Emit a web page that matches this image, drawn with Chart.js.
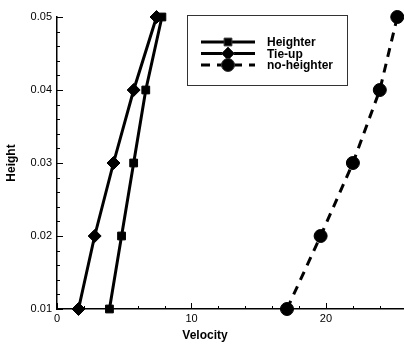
<!DOCTYPE html>
<html>
<head>
<meta charset="utf-8">
<script src="https://cdn.jsdelivr.net/npm/chart.js@4.4.1/dist/chart.umd.min.js"></script>
<style>
  html, body { margin: 0; padding: 0; background: #fff; }
  #wrap { width: 404px; height: 344px; }
</style>
</head>
<body>
<div id="wrap"><canvas id="heightChart"></canvas></div>
<script>
// values
const heights = [0.01, 0.02, 0.03, 0.04, 0.05];
const heighterVel = [3.9, 4.8, 5.7, 6.6, 7.8];
const tieUpVel = [1.6, 2.8, 4.2, 5.7, 7.4];
const noHeighterVel = [17.1, 19.6, 22.0, 24.0, 25.3];

const xMajor = [0, 10, 20];
const yMajor = [0.01, 0.02, 0.03, 0.04, 0.05];

const seriesNames = ["Heighter", "Tie-up", "no-heighter"];
const xTitle = "Velocity";

function toPoints(xs) {
    return xs.map((v, i) => ({ x: v, y: heights[i] }));
}

// inward tick marks (major + minor), x title and the boxed legend
const frameExtras = {
    id: "frameExtras",
    afterDraw(chart) {
        const ctx = chart.ctx;
        const xs = chart.scales.x;
        const ys = chart.scales.y;
        const area = chart.chartArea;
        ctx.save();
        ctx.strokeStyle = "#000";
        ctx.lineWidth = 1;
        // x ticks
        for (let v = 0; v <= xs.max + 1e-9; v += 2) {
            const px = Math.round(xs.getPixelForValue(v)) + 0.5;
            const major = xMajor.includes(v);
            ctx.beginPath();
            ctx.moveTo(px, area.bottom);
            ctx.lineTo(px, area.bottom - (major ? 6 : 3));
            ctx.stroke();
        }
        // y ticks
        for (let i = 0; i <= 20; i++) {
            const v = 0.01 + i * 0.002;
            const py = Math.round(ys.getPixelForValue(v)) + 0.5;
            const major = i % 5 === 0;
            ctx.beginPath();
            ctx.moveTo(area.left, py);
            ctx.lineTo(area.left + (major ? 6 : 3), py);
            ctx.stroke();
        }

        // x axis title (sits left of centre in the original)
        ctx.fillStyle = "#000";
        ctx.font = "bold 12px 'Liberation Sans', Arial, sans-serif";
        ctx.textAlign = "center";
        ctx.textBaseline = "middle";
        ctx.fillText(xTitle, area.left + 148, area.bottom + 27);

        // legend box
        const bx = area.left + 130, by = area.top - 2, bw = 160, bh = 70;
        ctx.lineWidth = 1;
        ctx.strokeStyle = "#333";
        ctx.strokeRect(bx + 0.5, by + 0.5, bw, bh);
        ctx.font = "bold 12px 'Liberation Sans', Arial, sans-serif";
        ctx.textAlign = "left";
        chart.data.datasets.forEach((ds, i) => {
            const ly = by + 27 + i * 11.5;
            const x0 = bx + 14, x1 = bx + 68, xm = (x0 + x1) / 2;
            ctx.save();
            ctx.lineWidth = 3;
            ctx.strokeStyle = "#000";
            ctx.setLineDash(ds.borderDash || []);
            ctx.beginPath();
            ctx.moveTo(x0, ly);
            ctx.lineTo(x1, ly);
            ctx.stroke();
            ctx.restore();
            Chart.helpers.drawPoint(ctx, {
                pointStyle: ds.pointStyle,
                radius: ds.pointRadius,
                borderWidth: 1
            }, xm, ly);
            ctx.fillStyle = "#000";
            ctx.fillText(ds.label, x1 + 12, ly + 1);
        });
        ctx.restore();
    }
};

const ctx = document.getElementById("heightChart").getContext("2d");
new Chart(ctx, {
    type: "line",
    data: {
        datasets: [
            {
                label: seriesNames[0],
                data: toPoints(heighterVel),
                borderColor: "#000",
                backgroundColor: "#000",
                borderWidth: 3,
                pointStyle: "rect",
                pointRadius: 5.5,
                pointBorderWidth: 1,
                clip: false
            },
            {
                label: seriesNames[1],
                data: toPoints(tieUpVel),
                borderColor: "#000",
                backgroundColor: "#000",
                borderWidth: 3,
                pointStyle: "rectRot",
                pointRadius: 6.5,
                pointBorderWidth: 1,
                clip: false
            },
            {
                label: seriesNames[2],
                data: toPoints(noHeighterVel),
                borderColor: "#000",
                backgroundColor: "#000",
                borderWidth: 3,
                borderDash: [9, 7],
                pointStyle: "circle",
                pointRadius: 6.5,
                pointBorderWidth: 1,
                clip: false
            }
        ]
    },
    options: {
        responsive: true,
        maintainAspectRatio: false,
        animation: false,
        layout: {
            autoPadding: false,
            padding: { top: 17, right: 0, left: 0, bottom: 0 }
        },
        plugins: {
            legend: { display: false },
            tooltip: { enabled: false }
        },
        scales: {
            x: {
                type: "linear",
                min: 0,
                max: 25.8,
                afterFit: scale => { scale.height = 35; },
                afterBuildTicks: scale => {
                    scale.ticks = xMajor.map(v => ({ value: v }));
                },
                grid: { display: true, drawOnChartArea: false, drawTicks: false },
                border: { display: true, color: "#000", width: 1.5 },
                ticks: {
                    padding: 3,
                    color: "#000",
                    font: { family: "'Liberation Sans', Arial, sans-serif", size: 11 }
                }
            },
            y: {
                type: "linear",
                min: 0.01,
                max: 0.05,
                afterFit: scale => { scale.width = 57; },
                afterBuildTicks: scale => {
                    scale.ticks = yMajor.map(v => ({ value: v }));
                },
                grid: { display: true, drawOnChartArea: false, drawTicks: false },
                border: { display: true, color: "#000", width: 1.5 },
                ticks: {
                    padding: 5,
                    color: "#000",
                    font: { family: "'Liberation Sans', Arial, sans-serif", size: 11 },
                    callback: v => v.toFixed(2)
                },
                title: {
                    display: true,
                    text: "Height",
                    color: "#000",
                    padding: { top: 4, bottom: 2 },
                    font: { family: "'Liberation Sans', Arial, sans-serif", size: 12, weight: "bold" }
                }
            }
        }
    },
    plugins: [frameExtras]
});
</script>
</body>
</html>
